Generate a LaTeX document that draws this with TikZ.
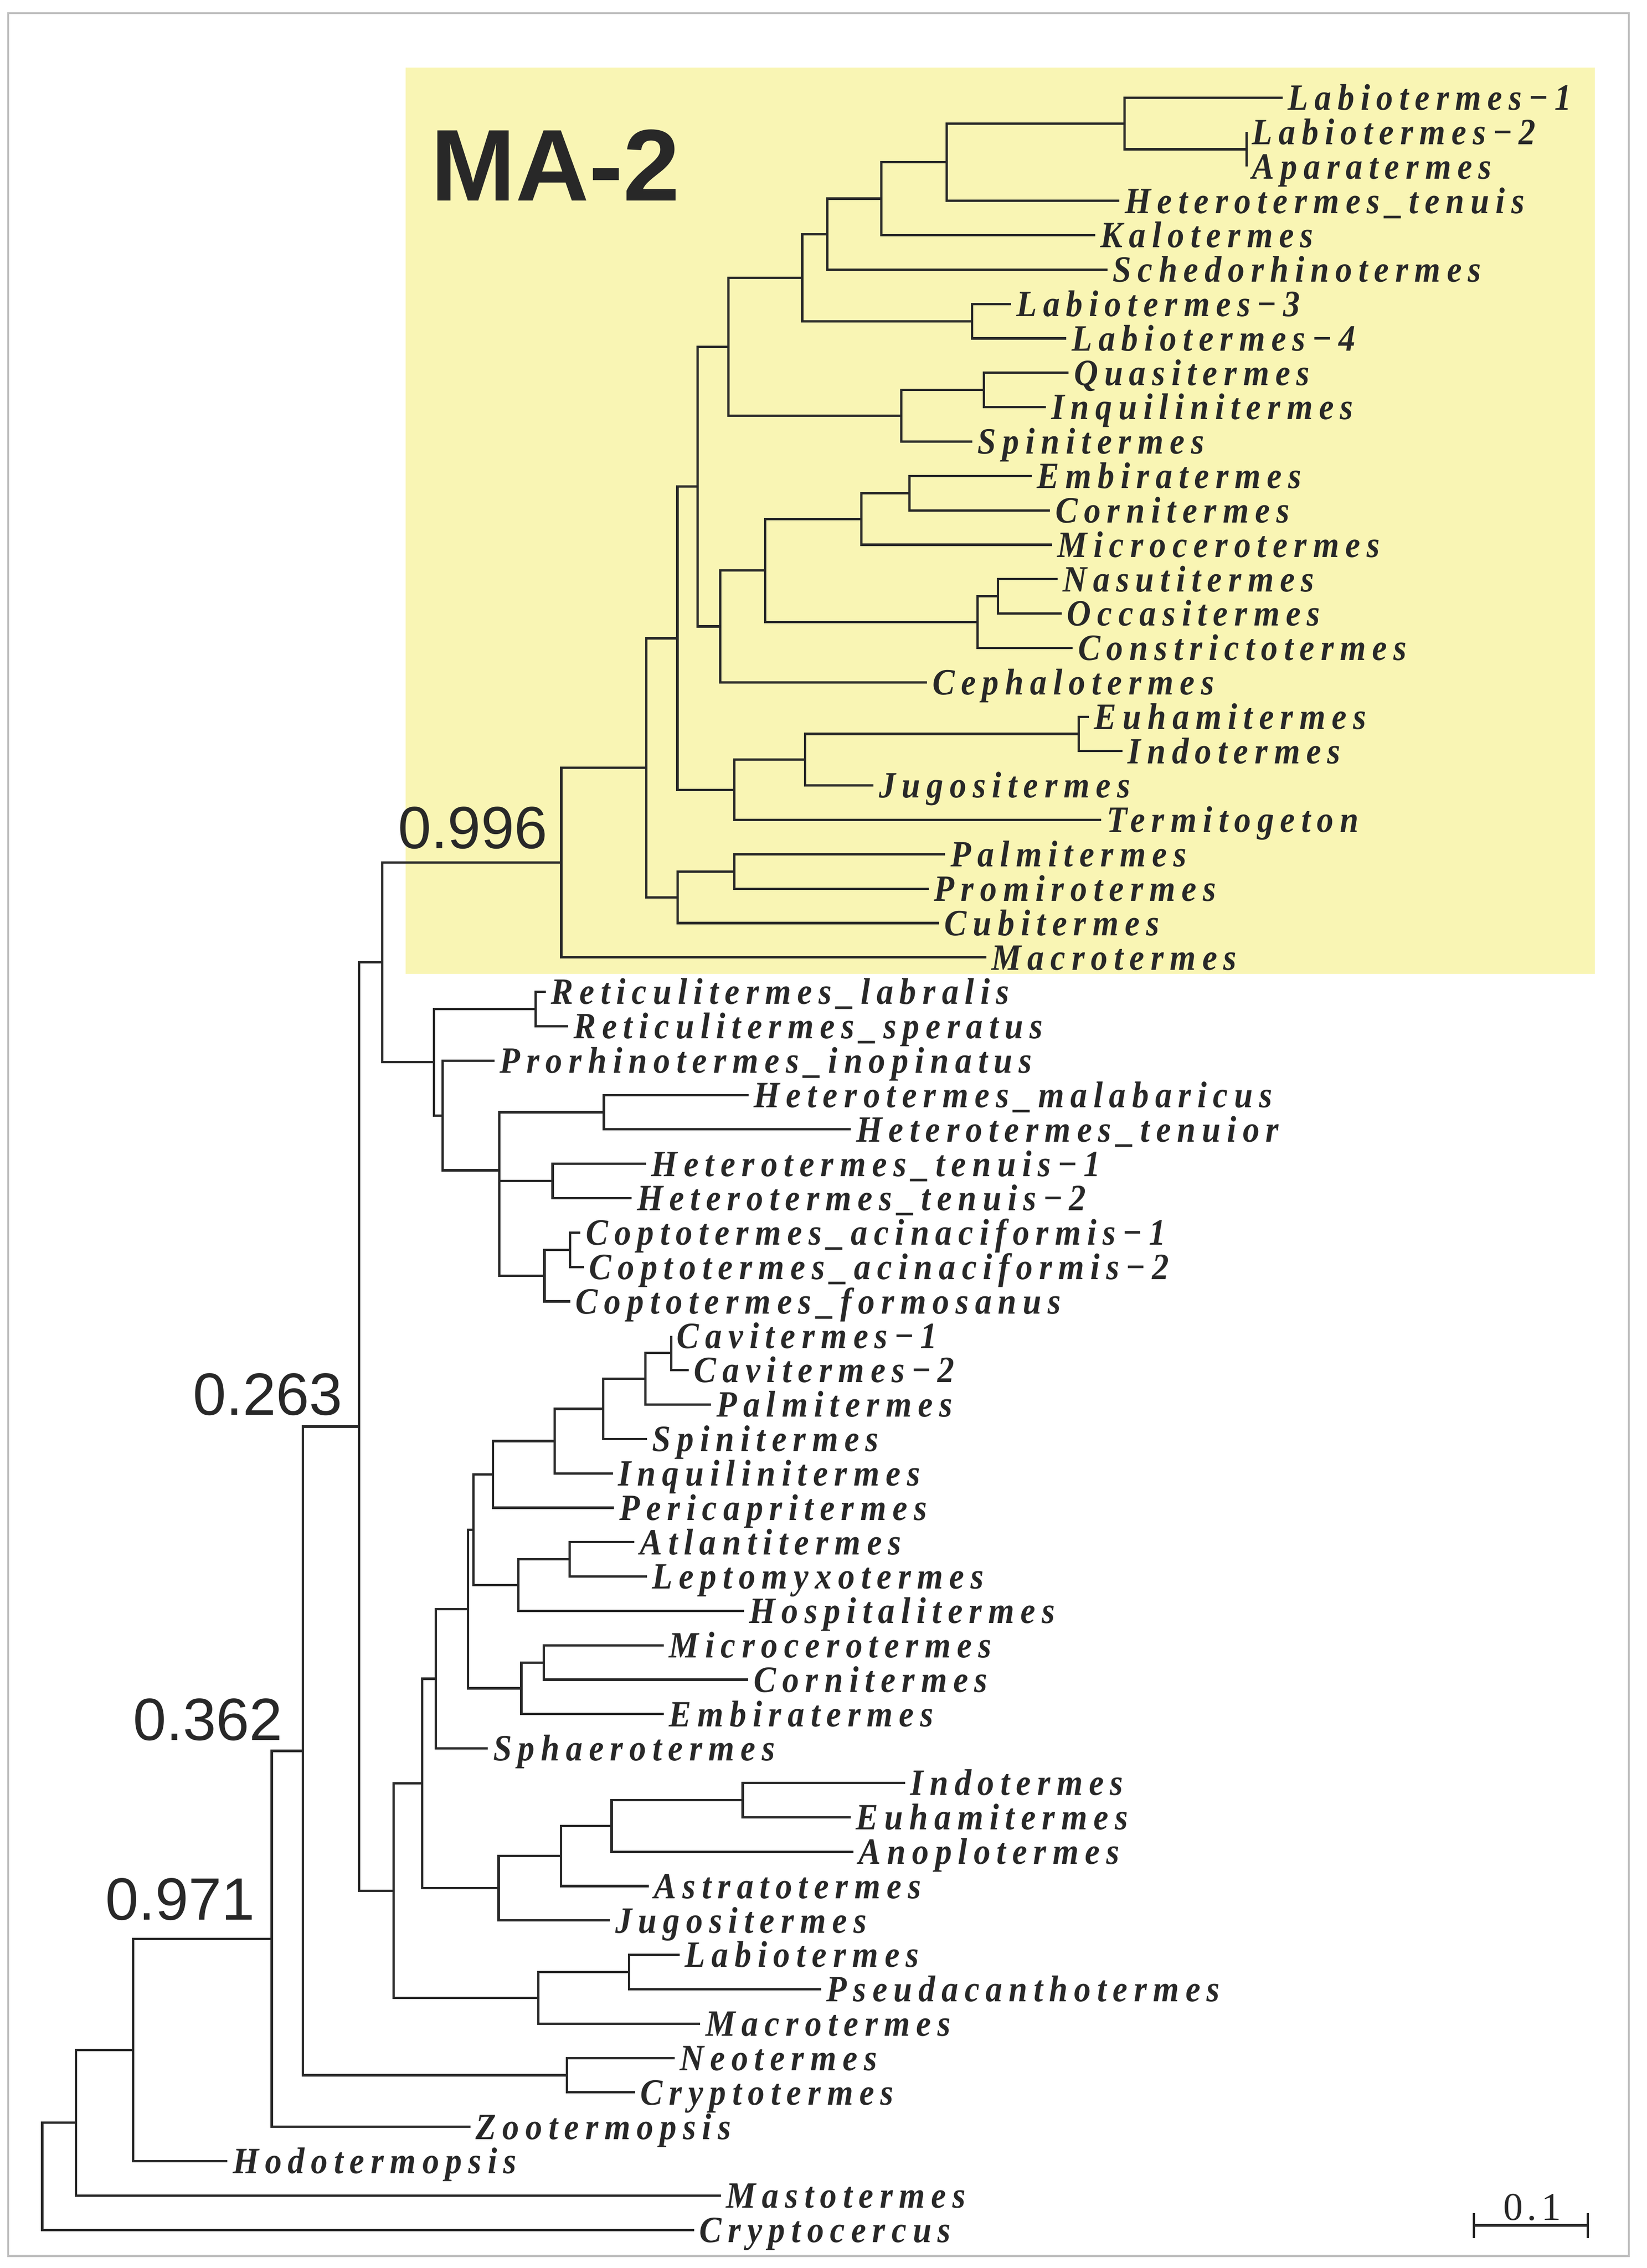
\documentclass[tikz,border=0pt]{standalone}
\usepackage{fontspec}
\usetikzlibrary{calc}
\newfontfamily\labfont[FakeStretch=0.9,LetterSpace=17]{Liberation Serif Bold Italic}
\newfontfamily\numfont{Liberation Sans}
\newfontfamily\barfont[LetterSpace=11]{Liberation Serif}
\definecolor{ink}{RGB}{40,40,40}
\definecolor{framegray}{RGB}{192,192,192}
\definecolor{boxyellow}{RGB}{249,245,180}
\tikzset{
  lab/.style={anchor=west, inner xsep=3.5pt, inner ysep=0pt, text height=17pt, text depth=0pt,
    font=\labfont\fontsize{25.5}{25.5}\selectfont, text=ink},
  br/.style={draw=ink, line width=1.6pt, line join=miter},
  support/.style={anchor=base west, inner sep=0pt, font=\numfont\fontsize{41}{41}\selectfont, text=ink},
}
\newcommand\tleaf[4]{\node[lab] (#1) at (#3,{-(67.1+23.63*#2)}) {#4};}
\newcommand\tnode[4]{\path let \p1=(#3), \p2=(#4) in (#2pt,{0.5*\y1+0.5*\y2}) coordinate (#1);
  \draw[br] (#3) -| (#1) |- (#4);}
\begin{document}
\begin{tikzpicture}[x=1pt,y=1pt]
\useasboundingbox (0,0) rectangle (1131.1,-1558.3);
\draw[framegray, line width=1.4pt] (5.6,-9) rectangle (1118.8,-1550);
\fill[boxyellow] (278.7,-46.4) rectangle (1095.6,-669);
\node[anchor=base west, inner sep=0pt, font=\fontspec{Liberation Sans}\bfseries\fontsize{70}{70}\selectfont, text=ink] (title) at (295.7,-138) {MA-2};
% leaves
\tleaf{a0}{0}{881}{Labiotermes−1}
\tleaf{a1}{1}{856.4}{Labiotermes−2}
\tleaf{a2}{2}{856.4}{Aparatermes}
\tleaf{a3}{3}{769}{Heterotermes\_tenuis}
\tleaf{a4}{4}{752.3}{Kalotermes}
\tleaf{a5}{5}{760.7}{Schedorhinotermes}
\tleaf{a6}{6}{694.5}{Labiotermes−3}
\tleaf{a7}{7}{732.5}{Labiotermes−4}
\tleaf{a8}{8}{734}{Quasitermes}
\tleaf{a9}{9}{718.5}{Inquilinitermes}
\tleaf{a10}{10}{667.8}{Spinitermes}
\tleaf{a11}{11}{708.6}{Embiratermes}
\tleaf{a12}{12}{721.3}{Cornitermes}
\tleaf{a13}{13}{722.7}{Microcerotermes}
\tleaf{a14}{14}{726.4}{Nasutitermes}
\tleaf{a15}{15}{729.2}{Occasitermes}
\tleaf{a16}{16}{736.8}{Constrictotermes}
\tleaf{a17}{17}{636.8}{Cephalotermes}
\tleaf{a18}{18}{748}{Euhamitermes}
\tleaf{a19}{19}{771}{Indotermes}
\tleaf{a20}{20}{600}{Jugositermes}
\tleaf{a21}{21}{756.5}{Termitogeton}
\tleaf{a22}{22}{649.3}{Palmitermes}
\tleaf{a23}{23}{638}{Promirotermes}
\tleaf{a24}{24}{645.1}{Cubitermes}
\tleaf{a25}{25}{677.4}{Macrotermes}
\tleaf{a26}{26}{374.8}{Reticulitermes\_labralis}
\tleaf{a27}{27}{390.3}{Reticulitermes\_speratus}
\tleaf{a28}{28}{339.6}{Prorhinotermes\_inopinatus}
\tleaf{a29}{29}{514.2}{Heterotermes\_malabaricus}
\tleaf{a30}{30}{584.5}{Heterotermes\_tenuior}
\tleaf{a31}{31}{443.8}{Heterotermes\_tenuis−1}
\tleaf{a32}{32}{433.9}{Heterotermes\_tenuis−2}
\tleaf{a33}{33}{398.7}{Coptotermes\_acinaciformis−1}
\tleaf{a34}{34}{401}{Coptotermes\_acinaciformis−2}
\tleaf{a35}{35}{391.7}{Coptotermes\_formosanus}
\tleaf{a36}{36}{461.2}{Cavitermes−1}
\tleaf{a37}{37}{473}{Cavitermes−2}
\tleaf{a38}{38}{488.5}{Palmitermes}
\tleaf{a39}{39}{444.3}{Spinitermes}
\tleaf{a40}{40}{420.9}{Inquilinitermes}
\tleaf{a41}{41}{421.8}{Pericapritermes}
\tleaf{a42}{42}{435.8}{Atlantitermes}
\tleaf{a43}{43}{444.3}{Leptomyxotermes}
\tleaf{a44}{44}{511}{Hospitalitermes}
\tleaf{a45}{45}{455.9}{Microcerotermes}
\tleaf{a46}{46}{514}{Cornitermes}
\tleaf{a47}{47}{455.9}{Embiratermes}
\tleaf{a48}{48}{335.1}{Sphaerotermes}
\tleaf{a49}{49}{621.7}{Indotermes}
\tleaf{a50}{50}{584.3}{Euhamitermes}
\tleaf{a51}{51}{586.1}{Anoplotermes}
\tleaf{a52}{52}{445.6}{Astratotermes}
\tleaf{a53}{53}{419}{Jugositermes}
\tleaf{a54}{54}{466.9}{Labiotermes}
\tleaf{a55}{55}{564.1}{Pseudacanthotermes}
\tleaf{a56}{56}{481}{Macrotermes}
\tleaf{a57}{57}{463.3}{Neotermes}
\tleaf{a58}{58}{436.2}{Cryptotermes}
\tleaf{a59}{59}{323.2}{Zootermopsis}
\tleaf{a60}{60}{156.2}{Hodotermopsis}
\tleaf{a61}{61}{495.1}{Mastotermes}
\tleaf{a62}{62}{476.8}{Cryptocercus}
% MA-2 clade
\tnode{b1}{856.4}{a1}{a2}
\tnode{b2}{772.5}{a0}{b1}
\tnode{b3}{650.3}{b2}{a3}
\tnode{b4}{605.3}{b3}{a4}
\tnode{b5}{568.4}{b4}{a5}
\tnode{b6}{667.8}{a6}{a7}
\tnode{b7}{551}{b5}{b6}
\tnode{b8}{675.7}{a8}{a9}
\tnode{b9}{619.1}{b8}{a10}
\tnode{b10}{500.3}{b7}{b9}
\tnode{b11}{624.7}{a11}{a12}
\tnode{b12}{591.8}{b11}{a13}
\tnode{b13}{685.5}{a14}{a15}
\tnode{b14}{671.5}{b13}{a16}
\tnode{b15}{525.6}{b12}{b14}
\tnode{b16}{494.7}{b15}{a17}
\tnode{b17}{479.2}{b10}{b16}
\tnode{b18}{741}{a18}{a19}
\tnode{b19}{553}{b18}{a20}
\tnode{b20}{504.3}{b19}{a21}
\tnode{b21}{465.3}{b17}{b20}
\tnode{b22}{504.3}{a22}{a23}
\tnode{b23}{465.5}{b22}{a24}
\tnode{b24}{444}{b21}{b23}
\tnode{b25}{385.5}{b24}{a25}
% Rhinotermitidae clade
\tnode{c1}{367.8}{a26}{a27}
\tnode{c2}{414.8}{a29}{a30}
\tnode{c3}{379.6}{a31}{a32}
\tnode{c4}{391.7}{a33}{a34}
\tnode{c5}{374}{c4}{a35}
\tnode{c6}{343}{c3}{c5}
\tnode{c7}{343}{c2}{c6}
\tnode{c8}{303.9}{a28}{c7}
\tnode{c9}{298}{c1}{c8}
\tnode{c10}{262.5}{b25}{c9}
% lower clade
\tnode{d1}{461.2}{a36}{a37}
\tnode{d2}{443.4}{d1}{a38}
\tnode{d3}{414.4}{d2}{a39}
\tnode{d4}{380.9}{d3}{a40}
\tnode{d5}{338.7}{d4}{a41}
\tnode{d6}{391.4}{a42}{a43}
\tnode{d7}{356.2}{d6}{a44}
\tnode{d8}{325.2}{d5}{d7}
\tnode{d9}{373.6}{a45}{a46}
\tnode{d10}{358.1}{d9}{a47}
\tnode{d11}{321.5}{d8}{d10}
\tnode{d12}{299.3}{d11}{a48}
\tnode{d13}{510.2}{a49}{a50}
\tnode{d14}{420.1}{d13}{a51}
\tnode{d15}{385.4}{d14}{a52}
\tnode{d16}{342.5}{d15}{a53}
\tnode{d17}{290}{d12}{d16}
\tnode{d18}{432.2}{a54}{a55}
\tnode{d19}{369.7}{d18}{a56}
\tnode{d20}{270.3}{d17}{d19}
% backbone
\tnode{e1}{246.7}{c10}{d20}
\tnode{e2}{389.4}{a57}{a58}
\tnode{e3}{208.1}{e1}{e2}
\tnode{e4}{186.7}{e3}{a59}
\tnode{e5}{91.5}{e4}{a60}
\tnode{e6}{52.1}{e5}{a61}
\tnode{e7}{29}{e6}{a62}
% support values
\node[support] (s996) at (273.2,-582.8) {0.996};
\node[support] (s263) at (132.4,-972.3) {0.263};
\node[support] (s362) at (91.3,-1195.7) {0.362};
\node[support] (s971) at (72.2,-1319) {0.971};
% scale bar
\coordinate (sbL) at (1012.5,-1529);
\coordinate (sbR) at (1090.7,-1529);
\draw[ink, line width=1.7pt] (sbL) -- (sbR);
\draw[ink, line width=1.7pt] ($(sbL)+(0,8.5)$) -- ($(sbL)+(0,-8.7)$);
\draw[ink, line width=1.7pt] ($(sbR)+(0,8.5)$) -- ($(sbR)+(0,-8.7)$);
\node[anchor=base, inner sep=0pt, font=\barfont\fontsize{27}{27}\selectfont, text=ink] (sblab) at (1052.4,-1525.4) {0.1};
\end{tikzpicture}
\end{document}
